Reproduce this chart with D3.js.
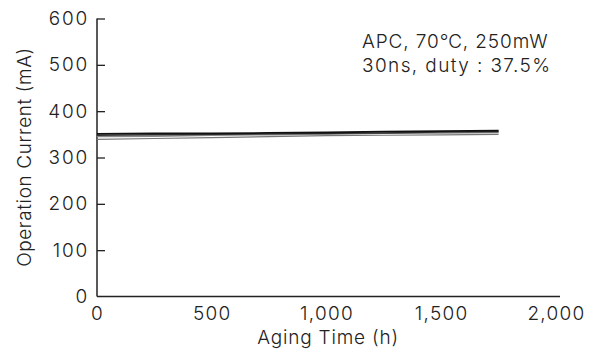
<!DOCTYPE html>
<html><head><meta charset="utf-8">
<script src="https://cdn.jsdelivr.net/npm/d3@7"></script>
<style>
body{margin:0;background:#fff;}
text{font-family:Inter,"Noto Sans CJK JP",sans-serif;fill:#222;}
</style></head>
<body><svg id="c" width="602" height="351"></svg>
<script>
const hours = [0, 250, 500, 750, 1000, 1250, 1500, 1750];
const seriesA = [351, 352, 352, 353, 354, 356, 357, 358];
const seriesB = [348, 349, 350, 351, 352, 353, 355, 356];
const seriesC = [345, 346, 348, 349, 350, 352, 353, 354];
const seriesD = [339, 341, 343, 345, 347, 348, 349, 350];
const xTicks = [0, 500, 1000, 1500, 2000];
const yTicks = [0, 100, 200, 300, 400, 500, 600];
const xTickLabels = ["0", "500", "1,000", "1,500", "2,000"];
const noteLines = ["APC, 70\u2103, 250mW", "30ns, duty : 37.5%"];

const svg = d3.select("#c");
const x = d3.scaleLinear().domain([0, 2000]).range([97, 556]);
const y = d3.scaleLinear().domain([0, 600]).range([296.5, 18.5]);

const gx = svg.append("g").attr("transform", "translate(0,296.5)")
  .call(d3.axisBottom(x).tickValues(xTicks).tickSize(0).tickPadding(10)
    .tickFormat((d, i) => xTickLabels[i]));
gx.select(".domain").attr("d", `M${x(0)},0H${x(2000)+4}`).attr("stroke", "#222").attr("stroke-width", 1.5);
gx.selectAll("text").attr("font-size", 19).attr("font-weight", 300).attr("letter-spacing", 1.3).attr("fill", "#222").attr("font-family", null);

const gy = svg.append("g").attr("transform", "translate(97,0)")
  .call(d3.axisRight(y).tickValues(yTicks).tickSize(8).tickPadding(0));
gy.select(".domain").attr("d", `M0,${y(0)}V${y(600)}`).attr("stroke", "#222").attr("stroke-width", 1.5);
gy.selectAll(".tick line").attr("stroke", "#222").attr("stroke-width", 1.3);
gy.selectAll(".tick").filter(d => d === 0).select("line").remove();
gy.selectAll("text").attr("x", -8).attr("text-anchor", "end").attr("font-size", 19).attr("font-weight", 300)
  .attr("letter-spacing", 1.8).attr("fill", "#222").attr("font-family", null);

const line = d3.line().x((d, i) => x(hours[i])).y(d => y(d));
[[seriesD, "#777", 1.2], [seriesC, "#888", 1.4], [seriesB, "#333", 1.4], [seriesA, "#111", 1.8]]
  .forEach(([s, c, w]) => {
    svg.append("path").datum(s).attr("d", line).attr("fill", "none").attr("stroke", c).attr("stroke-width", w);
  });

svg.append("text").attr("x", 328).attr("y", 344).attr("text-anchor", "middle")
  .attr("font-size", 19).attr("font-weight", 300).attr("letter-spacing", 0.8).text("Aging Time (h)");
svg.append("text").attr("transform", "translate(31,157) rotate(-90)").attr("text-anchor", "middle")
  .attr("font-size", 19).attr("font-weight", 300).attr("letter-spacing", 0.6).text("Operation Current (mA)");
svg.selectAll(".note").data(noteLines).enter().append("text").attr("class", "note")
  .attr("x", 362).attr("y", (d, i) => 48 + i * 24).attr("font-size", 19).attr("font-weight", 300)
  .attr("letter-spacing", (d, i) => i === 0 ? 0.9 : 1.4).text(d => d);
</script></body></html>
